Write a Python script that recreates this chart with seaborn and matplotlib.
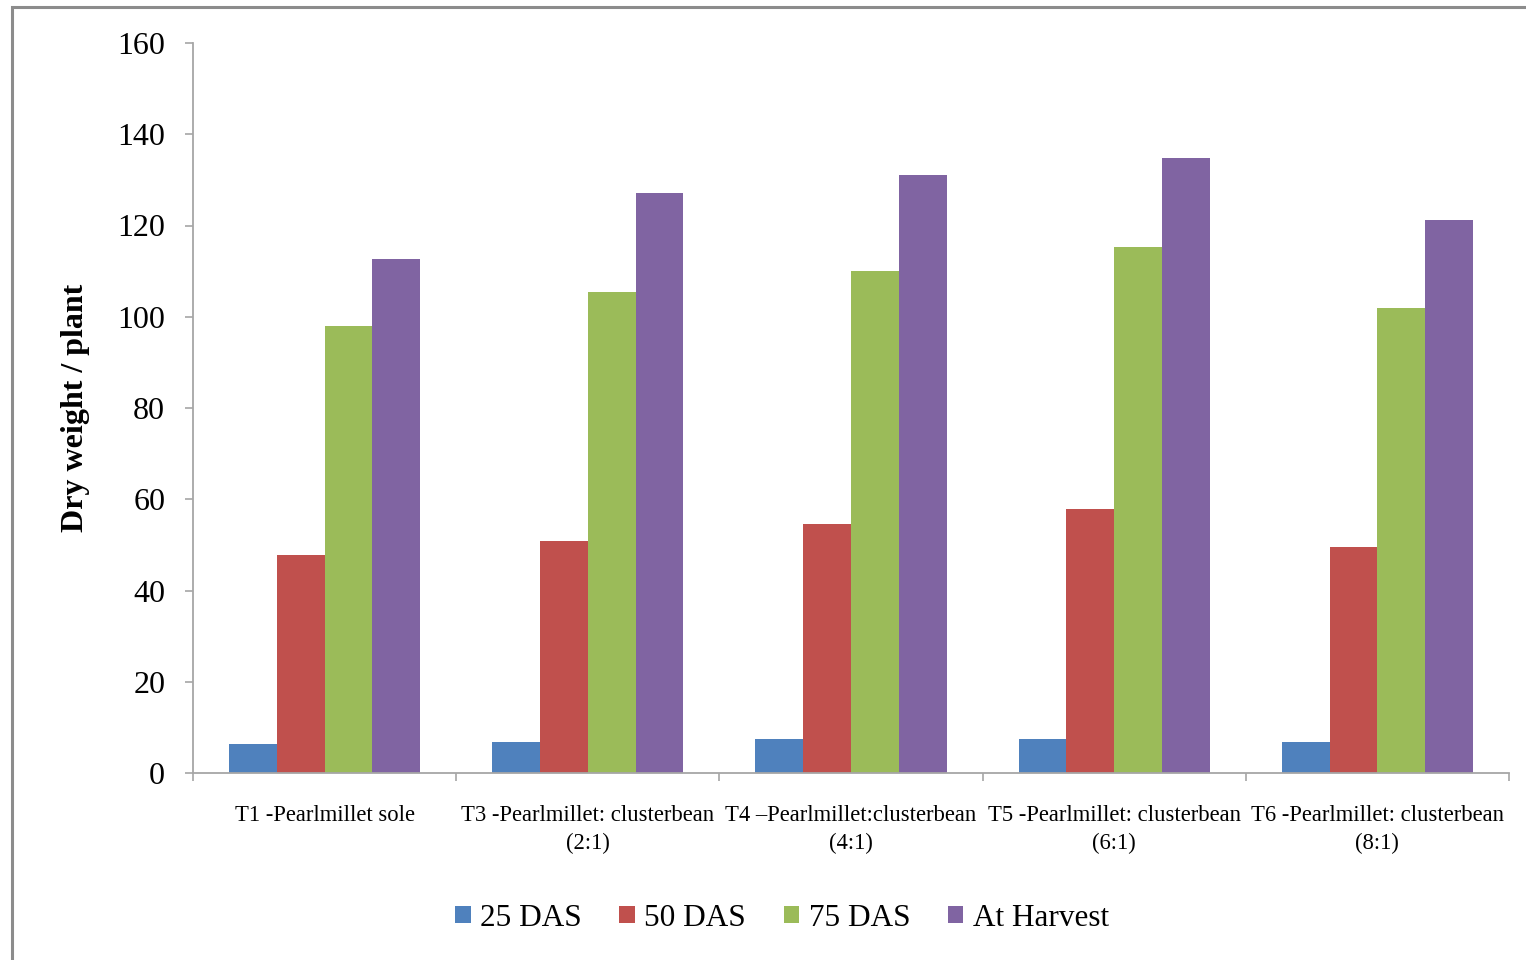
import matplotlib
matplotlib.use("Agg")
import matplotlib.pyplot as plt
from matplotlib.patches import Rectangle, Patch
import seaborn as sns
import pandas as pd
import numpy as np

# Treatments and growth stages
treatments = [
    "T1 -Pearlmillet sole",
    "T3 -Pearlmillet: clusterbean\n(2:1)",
    "T4 \u2013Pearlmillet:clusterbean\n(4:1)",
    "T5 -Pearlmillet: clusterbean\n(6:1)",
    "T6 -Pearlmillet: clusterbean\n(8:1)",
]
stages = ["25 DAS", "50 DAS", "75 DAS", "At Harvest"]

# Dry weight per plant for each stage
das25 = [6.4, 6.8, 7.5, 7.5, 6.8]
das50 = [47.8, 50.8, 54.6, 57.9, 49.5]
das75 = [98.0, 105.4, 110.0, 115.3, 101.9]
harvest = [112.7, 127.1, 131.1, 134.8, 121.2]

yticks = [0, 20, 40, 60, 80, 100, 120, 140, 160]
colors = ["#4F81BD", "#C0504D", "#9BBB59", "#8064A2"]

df = pd.DataFrame({
    "Treatment": treatments * 4,
    "Stage": np.repeat(stages, len(treatments)),
    "Dry weight": das25 + das50 + das75 + harvest,
})

sns.set_style("white")
plt.rcParams["font.family"] = ["Liberation Serif", "DejaVu Serif"]
plt.rcParams["text.color"] = "black"
plt.rcParams["axes.labelcolor"] = "black"
plt.rcParams["xtick.labelcolor"] = "black"
plt.rcParams["ytick.labelcolor"] = "black"

fig = plt.figure(figsize=(15.26, 9.6), dpi=100)
ax = fig.add_axes([193 / 1526, 1 - 773 / 960, (1509 - 193) / 1526, (773 - 43) / 960])

sns.barplot(data=df, x="Treatment", y="Dry weight", hue="Stage",
            palette=colors, saturation=1, width=0.726, linewidth=0,
            order=treatments, hue_order=stages, ax=ax)

ax.set_xlim(-0.5, len(treatments) - 0.5)
ax.set_ylim(0, 160)
ax.set_yticks(yticks)
ax.set_yticklabels([str(v) for v in yticks], fontsize=23, color="black")
ax.set_xticks(range(len(treatments)))
ax.set_xticklabels(treatments, fontsize=16.3, linespacing=1.4, color="black")
ax.set_xticks(np.arange(-0.5, len(treatments)), minor=True)

spine_color = "#a6a6a6"
for side in ["top", "right"]:
    ax.spines[side].set_visible(False)
for side in ["left", "bottom"]:
    ax.spines[side].set_color(spine_color)
    ax.spines[side].set_linewidth(1.3)

ax.tick_params(axis="y", which="major", direction="out", length=6, width=1.2,
               color=spine_color, left=True, pad=14)
ax.tick_params(axis="x", which="major", length=0, pad=23)
ax.tick_params(axis="x", which="minor", direction="out", length=6, width=1.2,
               color=spine_color, bottom=True)

ax.set_xlabel("")
ax.set_ylabel("Dry weight / plant", fontsize=23, fontweight="bold", labelpad=20,
              color="black")

# Legend below the plot
if ax.get_legend() is not None:
    ax.get_legend().remove()
handles = [Patch(facecolor=c, edgecolor="none") for c in colors]
fig.legend(handles, stages, loc="center", bbox_to_anchor=(782 / 1526, 1 - 918 / 960),
           ncol=4, frameon=False, fontsize=22.5, handlelength=0.5, handleheight=0.5,
           handletextpad=0.3, columnspacing=1.2)

# Outer chart frame
fig.patches.append(Rectangle((12 / 1526, -0.05), 1.1, 1 - 7 / 960 + 0.05,
                             transform=fig.transFigure, fill=False,
                             edgecolor="#8c8c8c", linewidth=2.2, zorder=0))

fig.savefig("out.png", dpi=100, facecolor="white")
